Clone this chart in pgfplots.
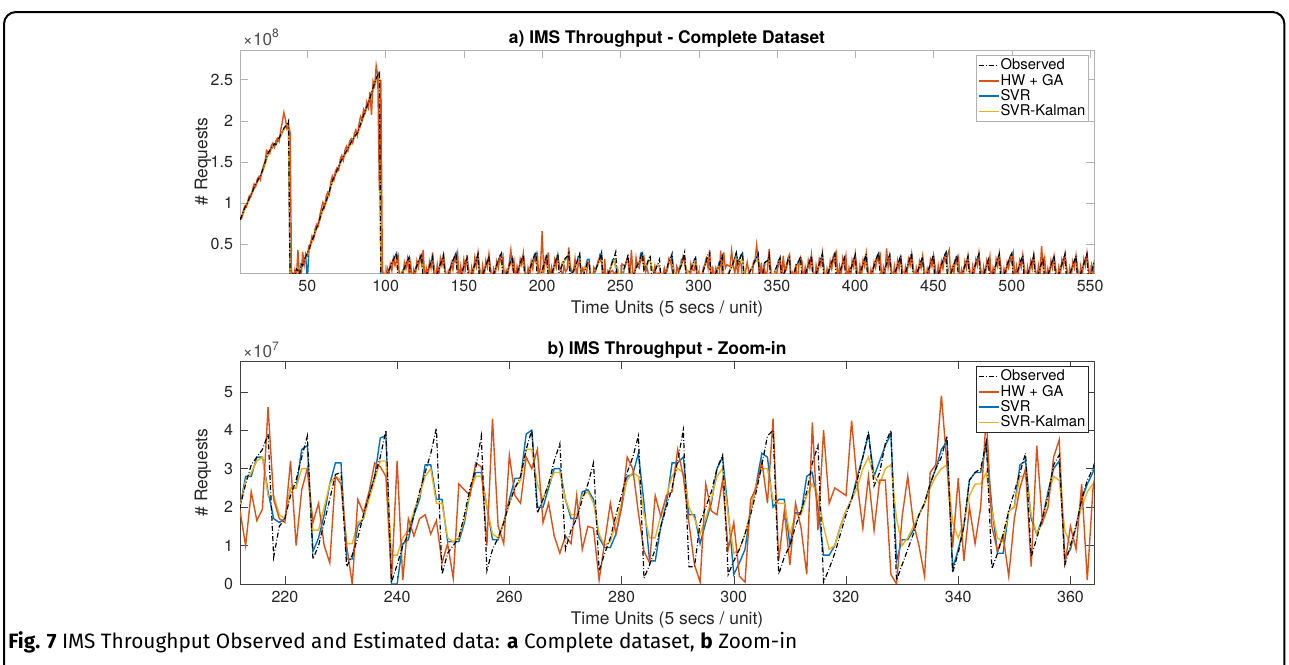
\documentclass[border=0pt]{standalone}
\usepackage{pgfplots}
\pgfplotsset{compat=1.18}
\usepackage{pgfplotstable}
\usepackage{fontspec}
\setmainfont{TeX Gyre Heros}
\newfontfamily\capfont{Fira Sans}

\definecolor{mhw}{rgb}{0.85,0.325,0.098}
\definecolor{msvr}{rgb}{0,0.447,0.741}
\definecolor{msvk}{rgb}{0.929,0.694,0.125}

% t, observed, HW+GA, SVR, SVR-Kalman  (units of 1e7 requests)
\pgfplotstableread{
t obs hw svr svk
7 8.0 8.0 8.0 8.0
8 8.4 8.1 8.3 8.2
9 8.9 9.0 8.7 8.7
10 9.4 9.6 9.3 9.2
11 9.8 9.5 9.8 9.6
12 10.1 10.3 10.0 10.0
13 10.6 10.9 10.5 10.4
14 11.0 10.8 11.0 10.9
15 11.4 11.6 11.3 11.3
16 11.9 12.3 11.8 11.7
17 12.3 12.0 12.2 12.1
18 12.6 12.9 12.6 12.5
19 13.0 13.2 12.9 12.9
20 13.3 12.8 13.3 13.2
21 13.8 13.9 13.7 13.6
22 14.3 14.5 14.2 14.1
23 14.9 15.1 14.8 14.7
24 15.6 16.4 15.5 15.3
25 16.1 16.2 16.0 15.9
26 16.4 16.0 16.4 16.2
27 16.6 17.0 16.6 16.5
28 16.9 17.3 16.9 16.8
29 17.2 16.8 17.1 17.0
30 17.1 17.6 17.2 17.1
31 17.6 17.9 17.5 17.4
32 17.9 17.5 17.9 17.8
33 18.3 18.9 18.2 18.1
34 18.7 19.8 18.6 18.5
35 19.1 21.0 19.0 18.9
36 19.3 20.2 19.3 19.2
37 19.6 19.0 19.5 19.4
38 20.0 19.3 19.6 19.5
39 0.4 18.6 1.0 1.6
40 1.2 0.5 0.8 1.4
41 1.6 0.3 1.3 1.5
42 1.0 1.8 1.2 1.3
43 2.0 0.8 1.8 1.7
44 1.8 4.3 1.9 1.8
45 1.2 1.0 1.3 1.5
46 2.6 0.5 2.4 2.2
47 2.4 4.1 2.6 2.4
48 3.0 2.5 2.9 2.8
49 3.5 3.9 3.4 3.3
50 3.9 3.6 0.5 3.6
51 4.3 4.8 4.2 4.1
52 4.9 5.0 4.8 4.7
53 5.5 6.0 5.4 5.3
54 5.9 5.6 5.9 5.8
55 6.5 6.9 6.4 6.3
56 7.0 7.4 7.0 6.9
57 7.6 7.2 7.5 7.4
58 8.1 8.5 8.0 7.9
59 8.8 9.4 8.7 8.6
60 9.3 10.1 9.2 9.1
61 9.7 9.5 9.7 9.6
62 10.2 10.8 10.1 10.0
63 10.8 11.3 10.7 10.6
64 11.4 11.0 11.3 11.2
65 12.1 12.6 12.0 11.9
66 12.7 13.3 12.6 12.5
67 13.1 12.8 13.1 13.0
68 13.5 13.9 13.5 13.4
69 14.0 14.3 13.9 13.8
70 14.4 14.0 14.4 14.3
71 14.9 15.3 14.8 14.7
72 15.3 15.8 15.2 15.1
73 15.6 15.2 15.6 15.5
74 16.0 16.4 15.9 15.8
75 16.3 16.9 16.3 16.2
76 16.7 16.4 16.6 16.5
77 17.0 17.5 17.0 16.9
78 17.4 17.8 17.3 17.2
79 17.7 17.3 17.7 17.6
80 18.0 18.4 18.0 17.9
81 18.3 18.9 18.3 18.2
82 18.5 18.2 18.5 18.4
83 19.0 19.6 18.9 18.8
84 19.6 20.5 19.5 19.4
85 20.2 20.1 20.1 20.0
86 20.7 21.4 20.6 20.5
87 21.2 21.0 21.2 21.0
88 21.7 22.3 21.6 21.5
89 22.2 21.6 22.2 22.0
90 22.8 23.5 22.7 22.6
91 23.4 20.7 23.3 23.1
92 24.0 24.8 23.9 23.7
93 24.6 24.2 24.5 24.3
94 25.1 26.7 25.0 24.8
95 25.6 25.5 25.5 25.3
96 26.0 11.5 25.8 25.6
97 0.5 25.0 1.2 2.0
98 0.3 0.3 0.6 1.2
99 0.6 1.4 0.7 1.0
100 0.9 0.5 1.0 1.1
101 1.3 2.1 1.3 1.4
102 1.8 1.2 1.9 1.8
103 2.2 2.6 2.2 2.1
104 2.7 1.8 2.7 2.5
105 3.1 3.3 3.2 2.8
106 3.5 2.4 3.5 3.1
107 3.9 3.0 3.9 3.3
108 0.4 3.6 2.0 1.8
109 0.8 0.6 0.9 1.2
110 1.2 1.5 1.2 1.3
111 1.7 0.9 1.8 1.7
112 2.1 2.8 2.1 2.0
113 2.6 2.0 2.6 2.4
114 3.0 3.2 3.0 2.7
115 3.4 1.4 3.3 2.9
116 0.5 2.7 1.9 1.8
117 0.9 0.4 1.0 1.2
118 1.4 1.9 1.4 1.5
119 1.9 1.1 1.9 1.8
120 2.4 3.0 2.4 2.2
121 2.9 2.2 2.9 2.6
122 3.3 3.5 3.3 2.9
123 3.8 2.6 3.7 3.2
124 0.3 4.3 2.1 1.8
125 0.7 0.8 0.8 1.1
126 1.2 2.0 1.2 1.3
127 1.8 0.7 1.8 1.7
128 2.3 2.9 2.3 2.1
129 2.9 2.1 2.9 2.6
130 3.5 4.0 3.4 3.0
131 0.6 1.3 2.2 1.9
132 1.0 0.4 1.0 1.2
133 1.5 2.5 1.5 1.6
134 2.0 1.2 2.0 1.9
135 2.6 3.3 2.6 2.4
136 3.1 2.4 3.1 2.8
137 3.7 3.6 3.6 3.1
138 0.4 1.8 2.0 1.8
139 0.8 0.3 0.9 1.1
140 1.3 1.7 1.3 1.4
141 1.9 1.0 1.9 1.8
142 2.5 2.7 2.5 2.3
143 3.0 1.9 3.0 2.7
144 3.5 3.4 3.4 3.0
145 3.9 2.8 3.9 3.3
146 0.3 3.9 2.2 1.8
147 0.7 0.6 0.8 1.1
148 1.2 2.3 1.2 1.3
149 1.7 0.9 1.7 1.7
150 2.3 3.1 2.3 2.1
151 2.8 2.0 2.8 2.5
152 3.3 3.7 3.3 2.9
153 0.5 1.5 2.0 1.8
154 0.9 0.3 1.0 1.2
155 1.4 2.2 1.4 1.5
156 2.0 1.3 2.0 1.9
157 2.5 3.4 2.5 2.3
158 3.1 2.3 3.1 2.7
159 3.8 3.9 3.7 3.2
160 0.4 1.6 2.1 1.8
161 0.8 0.5 0.9 1.1
162 1.3 2.4 1.3 1.4
163 1.8 1.0 1.8 1.7
164 2.4 3.0 2.4 2.2
165 2.9 2.2 2.9 2.6
166 3.6 3.8 3.5 3.0
167 0.5 1.9 2.0 1.8
168 0.9 0.4 1.0 1.2
169 1.4 2.0 1.4 1.5
170 1.9 1.2 1.9 1.8
171 2.5 2.9 2.5 2.3
172 3.0 2.1 3.0 2.7
173 3.5 3.4 3.5 3.0
174 3.9 2.7 3.8 3.3
175 0.3 3.5 2.2 1.8
176 0.7 0.5 0.8 1.1
177 1.2 1.8 1.2 1.3
178 1.8 1.1 1.8 1.7
179 2.4 2.8 2.4 2.2
180 3.0 4.3 3.0 2.7
181 3.4 2.2 3.4 2.9
182 0.6 3.0 2.0 1.9
183 1.0 0.6 1.1 1.2
184 1.5 2.3 1.5 1.6
185 2.1 1.4 2.1 2.0
186 2.6 3.2 2.6 2.4
187 3.2 2.5 3.2 2.8
188 3.7 3.9 3.6 3.1
189 0.4 1.7 2.1 1.8
190 0.8 0.3 0.9 1.1
191 1.3 2.1 1.3 1.4
192 1.9 1.0 1.9 1.8
193 2.5 2.9 2.5 2.3
194 3.0 2.0 3.0 2.7
195 3.6 3.6 3.5 3.0
196 4.0 2.9 3.9 3.3
197 0.3 3.7 2.2 1.8
198 0.7 0.6 0.8 1.1
199 1.2 2.6 1.2 1.3
200 1.8 6.6 1.8 1.7
201 2.4 1.5 2.4 2.2
202 3.0 3.3 3.0 2.7
203 3.7 2.5 3.6 3.1
204 0.5 4.0 2.0 1.8
205 0.9 0.5 1.0 1.2
206 1.4 2.2 1.4 1.5
207 1.9 1.3 1.9 1.8
208 2.5 3.1 2.5 2.3
209 3.2 2.2 3.2 2.8
210 3.8 3.6 3.7 3.2
211 1.0 2.4 1.9 1.9
212 2.0 1.9 2.0 2.0
213 2.6 1.0 2.8 2.7
214 3.1 2.4 2.8 2.9
215 3.3 1.65 3.3 3.2
216 3.5 1.95 3.3 3.3
217 3.9 4.6 2.4 2.3
218 0.7 2.2 1.7 2.3
219 1.5 1.7 1.6 1.8
220 1.7 1.6 1.7 1.7
221 2.3 3.2 2.5 2.5
222 2.7 1.0 2.5 2.5
223 3.3 2.45 3.5 3.0
224 3.85 3.0 3.6 3.0
225 0.65 1.6 0.85 1.4
226 1.0 2.1 1.2 1.4
227 1.6 1.0 1.8 2.0
228 2.2 0.55 2.6 2.6
229 2.85 2.8 3.15 2.8
230 2.9 2.6 3.15 2.7
231 0.45 1.0 0.65 1.05
232 0.75 0.0 0.65 1.05
233 1.2 2.2 1.5 1.6
234 1.8 1.85 1.7 1.7
235 2.3 2.4 2.3 2.2
236 2.8 3.15 2.8 2.7
237 3.3 3.05 3.8 3.2
238 4.0 2.8 3.85 3.2
239 0.05 0.1 0.0 0.75
240 0.5 3.2 0.0 0.75
241 1.0 0.1 1.05 1.2
242 1.3 1.7 1.15 1.4
243 1.8 1.25 1.8 1.9
244 2.4 1.7 2.2 2.3
245 2.9 1.8 3.1 2.8
246 3.4 1.3 3.1 3.0
247 4.05 1.65 2.2 2.1
248 0.25 0.55 2.2 2.1
249 0.8 1.05 1.1 1.2
250 1.0 0.15 1.1 1.1
251 1.2 2.6 1.1 1.2
252 1.8 2.45 1.6 1.7
253 2.5 2.3 2.4 2.4
254 3.0 3.15 2.9 2.8
255 3.85 3.05 2.9 2.8
256 0.35 1.0 2.0 2.0
257 0.9 4.3 1.15 1.3
258 1.2 1.5 1.15 1.2
259 1.6 1.05 1.6 1.6
260 2.1 3.35 2.2 2.1
261 2.5 2.3 2.75 2.5
262 2.8 2.1 2.75 2.7
263 3.5 3.3 3.9 3.5
264 4.0 3.0 4.0 3.5
265 1.85 3.5 2.0 2.6
266 2.2 1.6 2.0 2.2
267 2.6 2.1 2.5 2.6
268 3.2 1.25 3.0 2.9
269 3.65 0.8 3.0 2.9
270 0.9 1.25 2.2 2.2
271 1.4 1.05 1.7 1.8
272 1.7 2.3 1.7 1.8
273 2.2 0.9 2.4 2.3
274 2.6 1.5 2.45 2.4
275 3.15 1.45 2.2 2.1
276 0.35 0.1 1.2 1.3
277 0.8 1.1 0.95 1.0
278 1.2 2.1 0.95 1.1
279 1.8 1.3 1.3 1.6
280 2.3 2.0 2.0 2.1
281 2.9 3.3 2.8 2.7
282 3.3 3.0 2.85 2.9
283 3.85 1.85 3.4 2.8
284 0.15 0.85 2.1 1.8
285 0.5 0.55 0.6 1.2
286 0.9 2.3 0.6 1.2
287 1.5 1.75 1.5 1.8
288 2.0 2.3 2.1 2.3
289 2.5 2.4 3.15 2.8
290 3.2 3.5 3.15 3.0
291 4.0 2.8 3.3 2.9
292 0.45 1.6 1.8 2.0
293 0.45 0.5 1.8 1.7
294 1.6 0.05 1.05 1.3
295 2.0 2.6 1.6 1.7
296 2.4 1.9 2.1 2.2
297 3.0 1.8 3.0 2.8
298 3.35 2.7 3.3 3.0
299 0.25 0.9 1.9 1.8
300 0.6 1.6 0.25 0.8
301 0.9 0.2 0.55 0.9
302 1.3 0.05 0.9 1.3
303 1.8 2.2 1.9 1.9
304 2.4 2.5 2.6 2.6
305 3.1 3.2 3.4 3.0
306 3.85 2.1 3.3 3.0
307 4.0 4.3 2.0 2.2
308 0.25 0.6 2.2 2.1
309 0.7 1.9 2.2 2.1
310 1.0 0.5 1.0 1.3
311 1.5 2.1 1.85 1.8
312 1.9 1.45 1.85 1.8
313 2.4 0.25 2.8 2.3
314 3.15 4.2 2.9 2.6
315 3.6 1.4 2.0 2.3
316 0.05 4.0 0.75 1.5
317 0.4 2.1 0.75 0.9
318 0.8 2.5 1.0 1.0
319 1.3 2.4 1.5 1.5
320 1.8 2.3 1.9 1.9
321 2.2 4.25 2.2 2.2
322 2.7 2.6 2.8 2.5
323 3.3 1.45 3.3 3.0
324 3.95 2.8 3.9 3.3
325 2.55 1.4 2.8 2.8
326 2.9 2.7 3.2 2.6
327 3.65 2.7 3.6 3.0
328 4.0 0.25 3.9 3.1
329 0.1 0.0 0.6 1.7
330 0.5 1.75 1.15 1.0
331 0.9 2.8 1.15 1.2
332 1.3 1.6 1.4 1.5
333 1.8 1.0 1.8 1.8
334 2.1 0.2 2.1 2.1
335 2.6 2.9 2.6 2.5
336 3.0 3.1 3.0 2.8
337 3.3 4.9 3.5 3.0
338 3.85 3.1 3.7 3.1
339 0.3 0.95 0.4 1.6
340 0.8 2.75 0.9 1.2
341 1.5 0.6 1.5 1.6
342 2.7 2.0 2.7 2.3
343 2.9 1.05 2.9 2.6
344 3.0 2.0 2.9 2.6
345 3.7 4.4 3.6 2.9
346 0.4 1.5 2.0 1.9
347 0.8 0.85 0.8 1.2
348 1.3 1.25 0.8 1.1
349 1.9 0.2 1.9 1.9
350 2.4 1.7 2.0 2.0
351 2.9 2.5 3.1 2.8
352 3.4 3.0 3.2 2.8
353 0.7 0.45 1.7 1.8
354 1.2 3.6 1.3 1.3
355 1.7 1.6 1.7 1.6
356 2.3 2.0 2.4 2.3
357 3.1 3.3 3.0 2.8
358 3.35 3.75 3.2 2.7
359 0.5 0.5 0.7 1.4
360 1.0 1.5 0.9 1.0
361 1.5 0.9 1.5 1.5
362 2.2 2.6 2.2 2.0
363 2.7 0.1 2.6 2.4
364 3.0 2.45 2.9 2.6
365 3.5 3.4 3.3 2.9
366 0.4 2.9 2.1 1.8
367 0.8 0.5 0.9 1.1
368 1.3 2.2 1.3 1.4
369 1.9 1.0 1.9 1.8
370 2.4 3.0 2.4 2.2
371 3.0 2.1 3.0 2.7
372 3.6 3.7 3.5 3.0
373 0.5 1.6 2.0 1.8
374 0.9 0.3 1.0 1.2
375 1.4 2.4 1.4 1.5
376 2.0 1.3 2.0 1.9
377 2.6 3.2 2.6 2.4
378 3.2 2.4 3.2 2.8
379 3.8 3.9 3.7 3.2
380 0.3 1.5 2.2 1.8
381 0.7 0.4 0.8 1.1
382 1.2 2.0 1.2 1.3
383 1.7 1.1 1.7 1.7
384 2.3 2.9 2.3 2.1
385 2.8 2.0 2.8 2.5
386 3.4 3.5 3.4 2.9
387 3.9 2.7 3.8 3.3
388 0.5 3.8 2.0 1.8
389 0.9 0.6 1.0 1.2
390 1.5 2.3 1.5 1.6
391 2.1 1.2 2.1 2.0
392 2.7 3.3 2.7 2.5
393 3.3 2.5 3.2 2.8
394 0.4 3.6 2.1 1.8
395 0.8 0.5 0.9 1.1
396 1.3 2.1 1.3 1.4
397 1.9 0.9 1.9 1.8
398 2.5 3.0 2.5 2.3
399 3.1 2.2 3.1 2.7
400 3.7 3.8 3.6 3.1
401 0.6 1.7 2.0 1.9
402 1.0 0.4 1.1 1.2
403 1.5 2.4 1.5 1.6
404 2.0 1.1 2.0 1.9
405 2.6 3.1 2.6 2.4
406 3.2 2.3 3.2 2.8
407 3.8 3.9 3.7 3.2
408 0.3 1.8 2.1 1.8
409 0.7 0.3 0.8 1.1
410 1.2 1.9 1.2 1.3
411 1.8 1.0 1.8 1.7
412 2.4 2.8 2.4 2.2
413 3.0 2.1 3.0 2.7
414 3.5 3.4 3.5 3.0
415 4.0 2.9 3.9 3.3
416 0.5 3.6 2.2 1.8
417 0.9 0.5 1.0 1.2
418 1.4 2.2 1.4 1.5
419 2.0 1.4 2.0 1.9
420 2.6 4.5 2.6 2.4
421 3.2 2.2 3.2 2.8
422 3.7 3.5 3.6 3.1
423 0.4 1.8 2.0 1.8
424 0.8 0.4 0.9 1.1
425 1.3 2.3 1.3 1.4
426 1.9 1.0 1.9 1.8
427 2.4 3.0 2.4 2.2
428 3.0 2.0 3.0 2.7
429 3.6 3.7 3.5 3.0
430 0.6 1.5 2.0 1.9
431 1.0 0.3 1.1 1.2
432 1.5 2.2 1.5 1.6
433 2.1 1.2 2.1 2.0
434 2.7 3.2 2.7 2.5
435 3.3 2.4 3.3 2.9
436 3.9 3.8 3.8 3.3
437 0.3 1.9 2.2 1.8
438 0.7 0.5 0.8 1.1
439 1.2 2.1 1.2 1.3
440 1.8 1.1 1.8 1.7
441 2.3 2.9 2.3 2.1
442 2.9 2.1 2.9 2.6
443 3.4 3.5 3.4 2.9
444 0.5 1.6 2.0 1.8
445 0.9 0.4 1.0 1.2
446 1.4 2.0 1.4 1.5
447 2.0 1.2 2.0 1.9
448 2.6 3.1 2.6 2.4
449 3.1 2.3 3.1 2.7
450 3.7 3.6 3.6 3.1
451 0.4 1.9 2.1 1.8
452 0.8 0.6 0.9 1.1
453 1.3 2.4 1.3 1.4
454 1.9 1.1 1.9 1.8
455 2.5 2.9 2.5 2.3
456 3.0 2.0 3.0 2.7
457 3.6 3.5 3.5 3.0
458 4.0 2.8 3.9 3.3
459 0.5 3.7 2.2 1.8
460 0.9 4.3 1.0 1.2
461 1.4 1.0 1.4 1.5
462 2.0 2.2 2.0 1.9
463 2.5 1.5 2.5 2.3
464 3.1 3.2 3.1 2.7
465 3.6 2.6 3.5 3.0
466 0.3 3.4 2.1 1.8
467 0.7 0.4 0.8 1.1
468 1.2 1.9 1.2 1.3
469 1.8 1.0 1.8 1.7
470 2.4 2.9 2.4 2.2
471 2.9 2.1 2.9 2.6
472 3.5 3.6 3.4 3.0
473 0.6 1.7 2.0 1.9
474 1.0 0.3 1.1 1.2
475 1.5 2.3 1.5 1.6
476 2.1 1.3 2.1 2.0
477 2.7 3.1 2.7 2.5
478 3.3 2.4 3.3 2.9
479 3.8 3.9 3.7 3.2
480 0.4 1.8 2.1 1.8
481 0.8 0.5 0.9 1.1
482 1.3 2.2 1.3 1.4
483 1.9 1.0 1.9 1.8
484 2.5 3.0 2.5 2.3
485 3.1 2.2 3.0 2.7
486 0.5 3.5 2.0 1.8
487 0.9 0.4 1.0 1.2
488 1.4 2.1 1.4 1.5
489 2.0 1.2 2.0 1.9
490 2.6 3.2 2.6 2.4
491 3.2 2.3 3.2 2.8
492 3.8 3.8 3.7 3.2
493 0.3 1.6 2.2 1.8
494 0.7 0.5 0.8 1.1
495 1.2 2.0 1.2 1.3
496 1.8 1.1 1.8 1.7
497 2.4 2.8 2.4 2.2
498 3.0 2.1 3.0 2.7
499 3.5 3.4 3.5 3.0
500 3.9 2.7 3.8 3.3
501 0.5 3.8 2.2 1.8
502 0.9 0.6 1.0 1.2
503 1.4 2.3 1.4 1.5
504 1.9 1.2 1.9 1.8
505 2.5 3.0 2.5 2.3
506 3.1 2.2 3.1 2.7
507 3.6 3.7 3.5 3.0
508 0.4 1.7 2.0 1.8
509 0.8 0.3 0.9 1.1
510 1.3 2.2 1.3 1.4
511 1.9 1.0 1.9 1.8
512 2.4 2.9 2.4 2.2
513 3.0 2.0 3.0 2.7
514 3.7 3.6 3.6 3.1
515 0.6 1.8 2.0 1.9
516 1.0 0.5 1.1 1.2
517 1.5 2.4 1.5 1.6
518 2.1 1.3 2.1 2.0
519 2.7 4.8 2.7 2.5
520 3.2 2.2 3.2 2.8
521 0.3 3.3 2.1 1.8
522 0.7 0.4 0.8 1.1
523 1.2 2.0 1.2 1.3
524 1.8 1.1 1.8 1.7
525 2.4 3.0 2.4 2.2
526 3.0 2.1 3.0 2.7
527 3.6 3.5 3.5 3.0
528 0.5 1.7 2.0 1.8
529 0.9 0.4 1.0 1.2
530 1.4 2.2 1.4 1.5
531 2.0 1.2 2.0 1.9
532 2.6 3.1 2.6 2.4
533 3.2 2.3 3.2 2.8
534 3.8 3.8 3.7 3.2
535 0.4 1.9 2.1 1.8
536 0.8 0.5 0.9 1.1
537 1.3 2.1 1.3 1.4
538 1.9 1.0 1.9 1.8
539 2.5 2.9 2.5 2.3
540 3.0 2.1 3.0 2.7
541 3.6 3.6 3.5 3.0
542 0.5 1.7 2.0 1.8
543 0.9 0.4 1.0 1.2
544 1.4 2.3 1.4 1.5
545 2.0 1.2 2.0 1.9
546 2.6 3.2 2.6 2.4
547 3.2 2.4 3.2 2.8
548 3.8 3.9 3.7 3.2
549 0.4 1.8 2.1 1.8
550 0.9 0.5 1.0 1.2
551 1.6 2.4 1.6 1.6
552 2.4 1.4 2.4 2.1
553 3.1 3.2 3.0 2.7
}\ims

\pgfplotsset{
  matlab/.style={
    scale only axis, width=427pt, height=111.5pt,
    anchor=north west,
    tick align=inside, tick pos=both, major tick length=4pt,
    scaled ticks=false,
    /pgf/number format/assume math mode=true,
    ticklabel style={font=\fontsize{8}{9.6}\selectfont, text=black!85},
    title style={font=\bfseries\fontsize{8.7}{10}\selectfont, at={(0.5,1)}, anchor=base, yshift=-2.8pt},
    xlabel style={font=\fontsize{8.7}{10}\selectfont, text=black!85, at={(axis description cs:0.5,-0.1816)}, anchor=base},
    ylabel style={font=\fontsize{8.7}{10}\selectfont, text=black!85, at={(axis description cs:-0.0433,0.5)}, anchor=center},
    xlabel={Time Units (5 secs / unit)},
    ylabel={\# Requests},
    legend cell align=left,
    legend style={at={(1,1)}, anchor=north east, xshift=-2.5pt, yshift=-2.5pt,
      font=\fontsize{7.4}{8}\selectfont, fill=white, inner sep=1pt,
      row sep=-0.8pt,
      nodes={inner sep=0.6pt, text height=5.6pt, text depth=1.6pt}},
    legend image code/.code={\draw[##1] (0pt,0pt) -- (10pt,0pt);},
  },
  obsl/.style={black, line width=0.6pt, dash pattern=on 2.5pt off 1.1pt on 0.4pt off 1.1pt},
  hwl/.style={mhw, line width=0.7pt},
  svrl/.style={msvr, line width=0.7pt},
  svkl/.style={msvk, line width=0.7pt},
}

\begin{document}
\begin{tikzpicture}
\useasboundingbox (0,0) rectangle (644.5pt,-332pt);
\draw[line width=1pt, rounded corners=6pt] (2pt,-360pt) -- (2pt,-6pt) -- (642.2pt,-6pt) -- (642.2pt,-360pt);

\begin{axis}[matlab, name=top, at={(120pt,-25pt)},
  xmin=7, xmax=552.5, ymin=0.15, ymax=2.86,
  xtick={50,100,...,550}, ytick={0.5,1,1.5,2,2.5},
  axis line style={black!30}, tick style={black!30},
  legend style={draw=black!30},
  title={a) IMS Throughput - Complete Dataset},
  extra description/.code={\node[anchor=base west, inner sep=0pt, font=\fontsize{8.6}{10}\selectfont, text=black!70] at (0.003,1.02) {×10\textsuperscript{8}};}]
\addlegendimage{black, line width=0.6pt, dash pattern=on 2.5pt off 1.1pt on 0.4pt off 1.1pt}\addlegendentry{Observed}
\addlegendimage{draw=mhw, line width=0.75pt}\addlegendentry{HW + GA}
\addlegendimage{draw=msvr, line width=0.75pt}\addlegendentry{SVR}
\addlegendimage{draw=msvk, line width=0.75pt}\addlegendentry{SVR-Kalman}
\addplot[svrl, forget plot] table[x=t, y expr=\thisrow{svr}/10] {\ims};
\addplot[svkl, forget plot] table[x=t, y expr=\thisrow{svk}/10] {\ims};
\addplot[hwl, forget plot] table[x=t, y expr=\thisrow{hw}/10] {\ims};
\addplot[obsl, forget plot] table[x=t, y expr=\thisrow{obs}/10] {\ims};
\end{axis}

\begin{axis}[matlab, name=bot, at={(120pt,-180.5pt)},
  xmin=212, xmax=364.2, ymin=0, ymax=5.8,
  xtick={220,240,...,360}, ytick={0,1,...,5},
  axis line style={black!75}, tick style={black!75},
  legend style={draw=black!85},
  title={b) IMS Throughput - Zoom-in},
  extra description/.code={\node[anchor=base west, inner sep=0pt, font=\fontsize{8.6}{10}\selectfont, text=black!70] at (0.003,1.014) {×10\textsuperscript{7}};}]
\addlegendimage{black, line width=0.6pt, dash pattern=on 2.5pt off 1.1pt on 0.4pt off 1.1pt}\addlegendentry{Observed}
\addlegendimage{draw=mhw, line width=0.75pt}\addlegendentry{HW + GA}
\addlegendimage{draw=msvr, line width=0.75pt}\addlegendentry{SVR}
\addlegendimage{draw=msvk, line width=0.75pt}\addlegendentry{SVR-Kalman}
\addplot[svrl, forget plot] table[x=t, y=svr] {\ims};
\addplot[svkl, forget plot] table[x=t, y=svk] {\ims};
\addplot[hwl, forget plot] table[x=t, y=hw] {\ims};
\addplot[obsl, forget plot] table[x=t, y=obs] {\ims};
\end{axis}

\node[anchor=base west, inner sep=0pt] at (4pt,-324pt)
  {\capfont\fontsize{10.4}{12}\selectfont\textbf{Fig. 7} IMS Throughput Observed and Estimated data: \textbf{a} Complete dataset, \textbf{b} Zoom-in};
\end{tikzpicture}
\end{document}
